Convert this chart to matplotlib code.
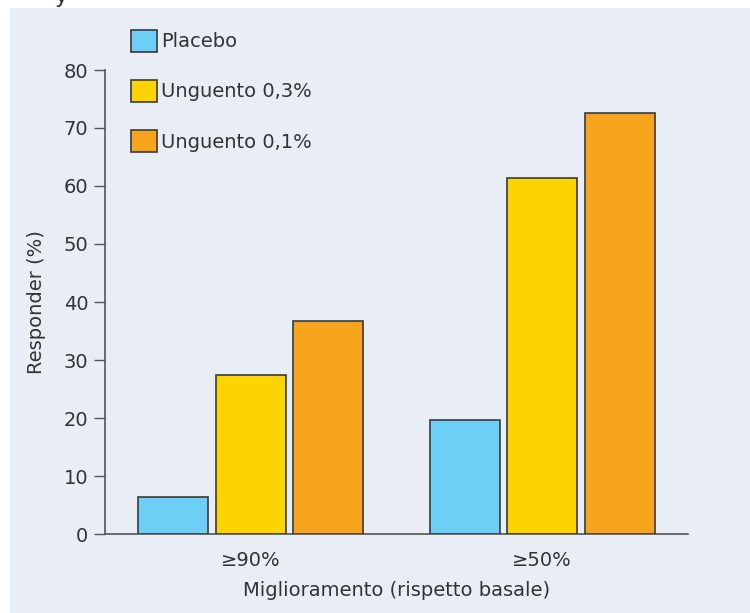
import numpy as np
import matplotlib
matplotlib.use("Agg")
import matplotlib.pyplot as plt
from matplotlib.patches import Rectangle

groups = ["≥90%", "≥50%"]
series = ["Placebo", "Unguento 0,3%", "Unguento 0,1%"]
placebo = [6.4, 19.7]
unguento_03 = [27.4, 61.4]
unguento_01 = [36.7, 72.5]
colors = ["#6dcff6", "#fdd400", "#f7a41d"]
yticks = [0, 10, 20, 30, 40, 50, 60, 70, 80]

plt.rcParams["font.family"] = ["DejaVu Sans"]
plt.rcParams["font.size"] = 14
text_col = "#333333"
edge_col = "#3a3a3a"
panel_col = "#e9edf5"

fig = plt.figure(figsize=(7.5, 6.13), dpi=100)
W, H = 750, 613

# light panel behind the chart; the heading above it is cropped by the panel
fig.text(54 / W, 1 - 3 / H, "y", fontsize=16, color=text_col, ha="left",
         va="baseline", zorder=-3)
fig.patches.append(Rectangle((10 / W, 0), 1 - 10 / W, 1 - 8 / H,
                             transform=fig.transFigure, facecolor=panel_col,
                             edgecolor="none", zorder=-2))

ax = fig.add_axes([105 / W, (H - 534) / H, (688 - 105) / W, (534 - 70) / H])
ax.set_facecolor("none")

x = np.arange(len(groups))
width = 0.24
step = 0.266
for i, (vals, lab, col) in enumerate(zip([placebo, unguento_03, unguento_01], series, colors)):
    ax.bar(x + (i - 1) * step, vals, width, color=col, edgecolor=edge_col,
           linewidth=1.2, label=lab, zorder=3)

ax.set_xlim(-0.5, 1.5)
ax.set_ylim(0, 80)
ax.set_yticks(yticks)
ax.set_xticks(x)
ax.set_xticklabels(groups)

for s in ["top", "right"]:
    ax.spines[s].set_visible(False)
for s in ["left", "bottom"]:
    ax.spines[s].set_color("#555555")
    ax.spines[s].set_linewidth(1.2)

ax.tick_params(axis="y", length=8, width=1.0, color="#555555", pad=4,
               labelcolor=text_col, labelsize=14)
ax.tick_params(axis="x", length=0, pad=12, labelcolor=text_col, labelsize=14)

ax.set_ylabel("Responder (%)", color=text_col, fontsize=14, labelpad=13)
ax.set_xlabel("Miglioramento (rispetto basale)", color=text_col, fontsize=14,
              labelpad=8)

leg = ax.legend(loc="upper left", bbox_to_anchor=(131 / W, 1 - 30 / H),
                bbox_transform=fig.transFigure, frameon=False, fontsize=14,
                handlelength=1.34, handleheight=1.34, handletextpad=0.2,
                labelspacing=1.46, borderpad=0, borderaxespad=0)
for t in leg.get_texts():
    t.set_color(text_col)

fig.savefig("out.png", dpi=100, facecolor="white")
